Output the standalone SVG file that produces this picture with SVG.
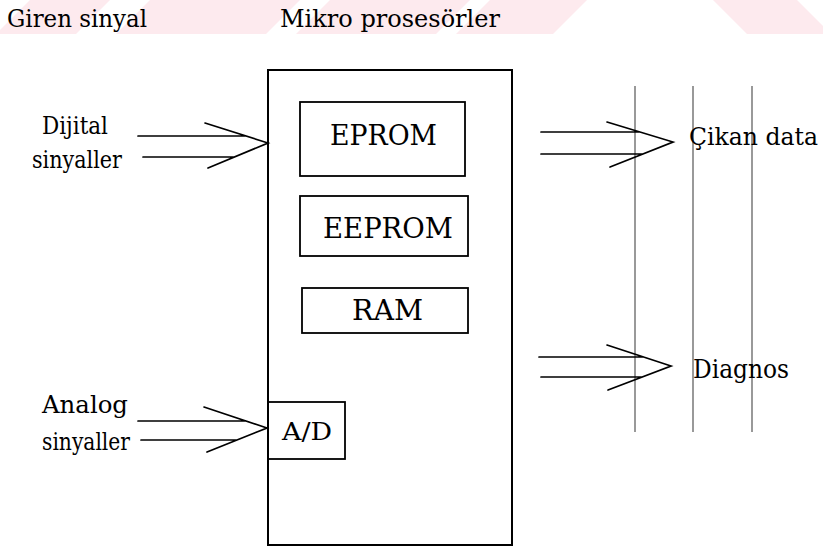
<svg xmlns="http://www.w3.org/2000/svg" width="823" height="548" viewBox="0 0 823 548">
<style>
.wm{fill:#fdeaee;stroke:none}
.lbl{font-family:'DejaVu Serif','Liberation Serif',serif;fill:#000}
.box{fill:#fff;stroke:#000;stroke-width:2}
.ibox{fill:none;stroke:#000;stroke-width:1.8}
.arr{fill:none;stroke:#000;stroke-width:1.7;stroke-linecap:round}
.bus{stroke:#555;stroke-width:1.2}
</style>
<rect width="823" height="548" fill="#fff"/>
<g id="watermark">
<polygon class="wm" points="30,0 110,0 76,34 -4,34"/>
<polygon class="wm" points="150,0 300,0 266,34 116,34"/>
<polygon class="wm" points="330,0 470,0 436,34 296,34"/>
<polygon class="wm" points="490,0 587,0 553,34 456,34"/>
<polygon class="wm" points="713,0 797,0 823,26 823,34 747,34"/>
</g>
<g id="title-input"><text class="lbl" x="7" y="27" font-size="24" textLength="140" lengthAdjust="spacingAndGlyphs">Giren sinyal</text></g>
<g id="title-mcu"><text class="lbl" x="280" y="27" font-size="24" textLength="220" lengthAdjust="spacingAndGlyphs">Mikro prosesörler</text></g>
<g id="bus">
<line class="bus" x1="635" y1="86" x2="635" y2="432"/>
<line class="bus" x1="693" y1="86" x2="693" y2="432"/>
<line class="bus" x1="752" y1="86" x2="752" y2="432"/>
</g>
<g id="mcu"><rect class="box" x="268" y="70" width="244" height="475"/></g>
<g id="eprom"><rect class="ibox" x="300" y="102" width="165" height="74"/><text class="lbl" x="330" y="145" font-size="27" textLength="107" lengthAdjust="spacingAndGlyphs">EPROM</text></g>
<g id="eeprom"><rect class="ibox" x="300" y="196" width="168" height="60"/><text class="lbl" x="323" y="238" font-size="27" textLength="130" lengthAdjust="spacingAndGlyphs">EEPROM</text></g>
<g id="ram"><rect class="ibox" x="302" y="288" width="166" height="45"/><text class="lbl" x="352" y="320" font-size="27" textLength="71" lengthAdjust="spacingAndGlyphs">RAM</text></g>
<g id="ad"><rect class="ibox" x="268" y="402" width="77" height="57"/><text class="lbl" x="282" y="440" font-size="24" textLength="50" lengthAdjust="spacingAndGlyphs">A/D</text></g>
<g id="dijital"><text class="lbl" x="42" y="134" font-size="24" textLength="66" lengthAdjust="spacingAndGlyphs">Dijital</text><text class="lbl" x="32" y="168" font-size="24" textLength="90" lengthAdjust="spacingAndGlyphs">sinyaller</text></g>
<g id="analog"><text class="lbl" x="42" y="413" font-size="24" textLength="86" lengthAdjust="spacingAndGlyphs">Analog</text><text class="lbl" x="42" y="450" font-size="24" textLength="88" lengthAdjust="spacingAndGlyphs">sinyaller</text></g>
<g id="cikan"><text class="lbl" x="689" y="145" font-size="24" textLength="129" lengthAdjust="spacingAndGlyphs">Çikan data</text></g>
<g id="diagnos"><text class="lbl" x="693" y="378" font-size="26" textLength="96" lengthAdjust="spacingAndGlyphs">Diagnos</text></g>
<g id="connectors">
<path class="arr" d="M138,136H246M143,157H234M205,123L268,143L208,168"/>
<path class="arr" d="M138,421H246M141,440H237M204,407L267,428L207,452"/>
<path class="arr" d="M541,132H640M541,154H643M607,122L673,142L610,167"/>
<path class="arr" d="M539,357H644M541,377H642M607,345L671,366L608,390"/>
</g>
</svg>
